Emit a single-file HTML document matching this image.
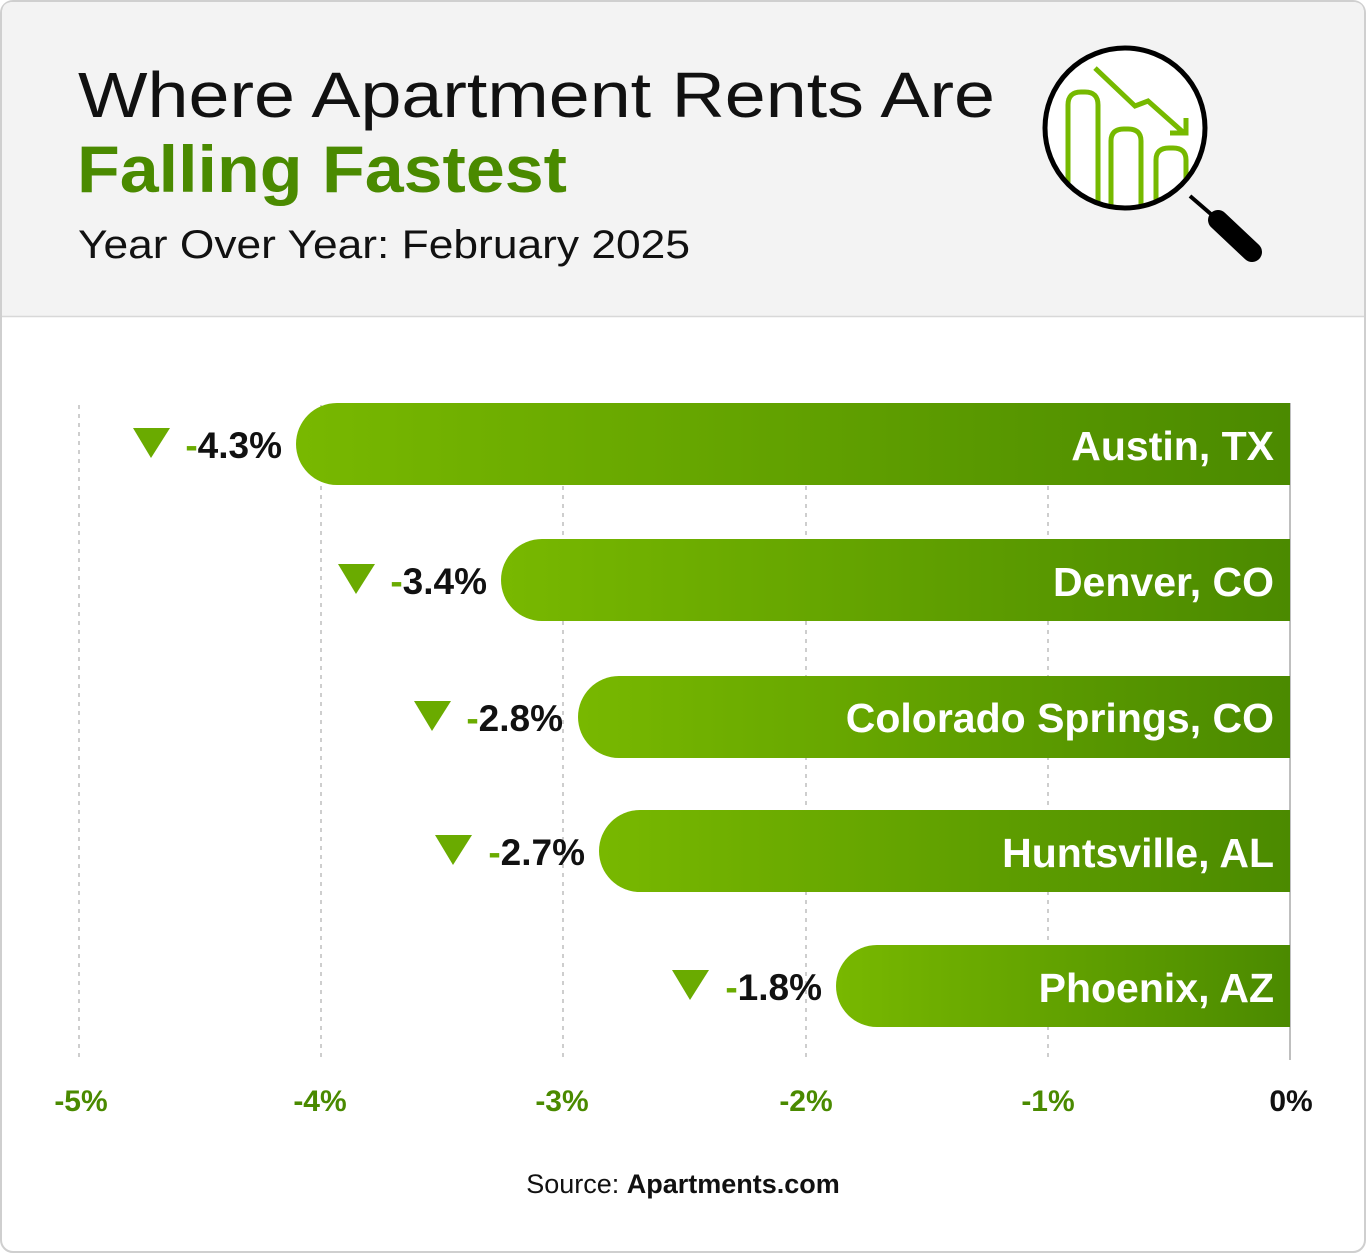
<!DOCTYPE html>
<html><head><meta charset="utf-8"><style>
html,body{margin:0;padding:0;background:#fff;}
svg{display:block;font-family:"Liberation Sans",sans-serif;}
</style></head><body>
<svg width="1366" height="1253" viewBox="0 0 1366 1253">
<defs>
<linearGradient id="g" x1="0" x2="1" y1="0" y2="0">
<stop offset="0" stop-color="#78b800"/><stop offset="1" stop-color="#4b8a00"/>
</linearGradient>
<clipPath id="cc"><circle cx="1125" cy="128" r="80"/></clipPath>
</defs>
<rect x="1" y="1" width="1364" height="1251" rx="12" fill="#fff" stroke="#cfcfcf" stroke-width="2"/>
<path d="M2 316 V13 Q2 2 13 2 H1353 Q1364 2 1364 13 V316 Z" fill="#f3f3f3"/>
<line x1="2" y1="316.5" x2="1364" y2="316.5" stroke="#d8d8d8" stroke-width="1.5"/>
<text x="78" y="117" font-size="64" fill="#111" textLength="917" lengthAdjust="spacingAndGlyphs">Where Apartment Rents Are</text>
<text x="77" y="192" font-size="66" font-weight="bold" fill="#4a8a00" textLength="490" lengthAdjust="spacingAndGlyphs">Falling Fastest</text>
<text x="78" y="258" font-size="40" fill="#111" textLength="612" lengthAdjust="spacingAndGlyphs">Year Over Year: February 2025</text>
<circle cx="1125" cy="128" r="80" fill="#fff"/>
<g clip-path="url(#cc)" fill="none" stroke="#76b900" stroke-width="5">
<path d="M1068 210 V105 Q1068 92 1081 92 H1085 Q1098 92 1098 105 V210"/>
<path d="M1111 210 V141 Q1111 129 1124 129 H1128 Q1141 129 1141 141 V210"/>
<path d="M1156 210 V160 Q1156 148 1169 148 H1173 Q1186 148 1186 160 V210"/>
</g>
<path d="M1095 68 L1135 106 L1148 101 L1184 133" fill="none" stroke="#76b900" stroke-width="5"/>
<path d="M1186 118 V133 H1170" fill="none" stroke="#76b900" stroke-width="5"/>
<circle cx="1125" cy="128" r="80" fill="none" stroke="#000" stroke-width="5"/>
<line x1="1190" y1="196" x2="1212" y2="215" stroke="#000" stroke-width="4"/>
<line x1="1218" y1="220" x2="1252" y2="252" stroke="#000" stroke-width="20" stroke-linecap="round"/>
<g stroke="#bdbdbd" stroke-width="1.5" stroke-dasharray="4,5">
<line x1="79" y1="405" x2="79" y2="1060"/>
<line x1="321" y1="405" x2="321" y2="1060"/>
<line x1="563" y1="405" x2="563" y2="1060"/>
<line x1="806" y1="405" x2="806" y2="1060"/>
<line x1="1048" y1="405" x2="1048" y2="1060"/>
</g>
<line x1="1290" y1="403" x2="1290" y2="1060" stroke="#aaa" stroke-width="1.5"/>
<g fill="url(#g)">
<path d="M1290 403 H337 A41 41 0 0 0 337 485 H1290 Z"/>
<path d="M1290 539 H542 A41 41 0 0 0 542 621 H1290 Z"/>
<path d="M1290 676 H619 A41 41 0 0 0 619 758 H1290 Z"/>
<path d="M1290 810 H640 A41 41 0 0 0 640 892 H1290 Z"/>
<path d="M1290 945 H877 A41 41 0 0 0 877 1027 H1290 Z"/>
</g>
<g font-size="41" font-weight="bold" fill="#fff" text-anchor="end">
<text x="1274" y="460">Austin, TX</text>
<text x="1274" y="596">Denver, CO</text>
<text x="1274" y="732">Colorado Springs, CO</text>
<text x="1274" y="867">Huntsville, AL</text>
<text x="1274" y="1002">Phoenix, AZ</text>
</g>
<g fill="#6aab00">
<path d="M133 428 H170 L151 458 Z"/>
<path d="M338 564 H375 L356 594 Z"/>
<path d="M414 701 H451 L432 731 Z"/>
<path d="M435 835 H472 L453 865 Z"/>
<path d="M672 970 H709 L690 1000 Z"/>
</g>
<g font-size="37" font-weight="bold" fill="#111" text-anchor="end">
<text x="282" y="458"><tspan fill="#6aab00">-</tspan>4.3%</text>
<text x="487" y="594"><tspan fill="#6aab00">-</tspan>3.4%</text>
<text x="563" y="731"><tspan fill="#6aab00">-</tspan>2.8%</text>
<text x="585" y="865"><tspan fill="#6aab00">-</tspan>2.7%</text>
<text x="822" y="1000"><tspan fill="#6aab00">-</tspan>1.8%</text>
</g>
<g font-size="30" font-weight="bold" fill="#4a8a00" text-anchor="middle">
<text x="81" y="1111">-5%</text>
<text x="320" y="1111">-4%</text>
<text x="562" y="1111">-3%</text>
<text x="806" y="1111">-2%</text>
<text x="1048" y="1111">-1%</text>
<text x="1291" y="1111" fill="#111">0%</text>
</g>
<text x="683" y="1193" font-size="27" fill="#111" text-anchor="middle">Source: <tspan font-weight="bold">Apartments.com</tspan></text>
</svg>
</body></html>
